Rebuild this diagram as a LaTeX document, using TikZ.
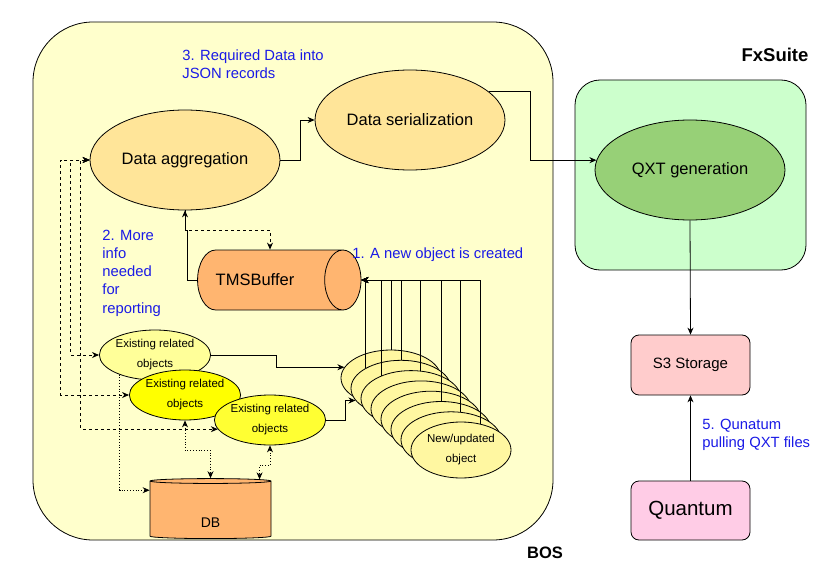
\documentclass[tikz,border=0pt]{standalone}
\usepackage{fontspec}
\setmainfont{Liberation Sans}
\usetikzlibrary{shapes.geometric,arrows.meta}

\definecolor{bosfill}{HTML}{FFFFCC}
\definecolor{fxfill}{HTML}{CCFFCC}
\definecolor{stepfill}{HTML}{FFE599}
\definecolor{bufffill}{HTML}{FFB570}
\definecolor{qxtfill}{HTML}{97D077}
\definecolor{sthreefill}{HTML}{FFCCCC}
\definecolor{quantfill}{HTML}{FFCCE6}
\definecolor{palefill}{HTML}{FFFF99}
\definecolor{yelfill}{HTML}{FFFF00}
\definecolor{midfill}{HTML}{FFFF33}
\definecolor{newfill}{HTML}{FFF7A1}
\definecolor{notecol}{HTML}{1A1AE6}

\newcommand{\bigfont}{\fontsize{16.5}{20}\selectfont}
\newcommand{\smallfont}{\fontsize{11.5}{20}\selectfont}
\newcommand{\notefont}{\fontsize{14.8}{18.3}\selectfont}

\begin{document}
\begin{tikzpicture}
[x=1pt,y=-1pt,line width=0.8pt,>={Stealth[length=7pt,width=6pt]},
 box/.style={draw,rounded corners=#1},
 oval/.style={ellipse,draw,inner sep=0pt,align=center},
 barrel/.style={cylinder,draw,inner sep=0pt},
 note/.style={text=notecol,font=\notefont,align=left,anchor=west,inner sep=0pt}]
\useasboundingbox (0,0) rectangle (827,583);
% containers
\node[box=60pt,fill=bosfill,minimum width=520pt,minimum height=518pt] (bos) at (293,281) {};
\node[box=25pt,fill=fxfill,minimum width=231pt,minimum height=190pt] (fx) at (690.5,175) {};
\node[font=\bigfont\bfseries] (bosname) at (545,553) {BOS};
\node[font=\fontsize{18.5}{22}\selectfont\bfseries] (fxname) at (775,55) {FxSuite};
% steps
\node[oval,fill=stepfill,minimum width=190pt,minimum height=100pt,font=\bigfont] (agg) at (185,160) {Data aggregation};
\node[oval,fill=stepfill,minimum width=190pt,minimum height=100pt,font=\bigfont] (ser) at (410,120) {Data serialization};
\node[oval,fill=qxtfill,minimum width=190pt,minimum height=100pt,font=\bigfont] (qxt) at (690,170) {QXT generation};
\node[box=8pt,fill=sthreefill,minimum width=119pt,minimum height=60pt,font=\fontsize{15}{18}\selectfont] (sthree) at (690.5,365) {S3 Storage};
\node[box=8pt,fill=quantfill,minimum width=119pt,minimum height=59pt,font=\fontsize{20.5}{24}\selectfont] (quant) at (690.5,510.5) {Quantum};
\node[barrel,fill=bufffill,minimum width=60pt,minimum height=148pt,aspect=3,font=\bigfont] (tms) at (270,280) {TMSBuffer\hspace*{30pt}};
\node[barrel,shape border rotate=90,fill=bufffill,minimum width=121pt,minimum height=60pt,aspect=0.25,font=\fontsize{14}{17}\selectfont] (db) at (210.5,510) {\raisebox{-17pt}[0pt][0pt]{DB}};
% related objects
\node[oval,fill=palefill,minimum width=110pt,minimum height=50pt,font=\smallfont] (exa) at (155,355) {Existing related\\objects};
\node[oval,fill=yelfill,minimum width=110pt,minimum height=50pt,font=\smallfont] (exb) at (185,395) {Existing related\\objects};
\node[oval,fill=midfill,minimum width=110pt,minimum height=50pt,font=\smallfont] (exc) at (270,420) {Existing related\\objects};
% new objects
\foreach \i in {0,...,6}
\node[oval,fill=newfill,minimum width=100pt,minimum height=56pt] (s\i) at ({391+10*\i},{378+10.3*\i}) {};
\node[oval,fill=newfill,minimum width=100pt,minimum height=56pt,font=\smallfont] (s7) at (461,450) {New/updated\\object};
% notes
\node[note] (notethree) at (182,64) {3. Required Data into\\JSON records};
\node[note] (notetwo) at (102,273) {2. More\\info\\needed\\for\\reporting};
\node[note] (noteone) at (352,255) {1. A new object is created};
\node[note] (notefive) at (702,435) {5. Qunatum\\pulling QXT files};
% connectors
\draw[->] (agg.east) -- ++(20,0) |- (ser.west);
\draw[->] (ser.20) -- ++(42,0) |- (qxt.174);
\draw[->] (qxt.south) -- (sthree.north);
\draw[->] (quant.north) -- (sthree.south);
\draw[->] (tms.west) -- ++(-10,0) -- ++(0,-50) -| (agg.south);
\draw[->,dashed] (agg.south) -- ++(0,20) -| (tms.north);
\foreach \src in {s1.151,s2.142,s0.north,s1.north,s2.72,s5.north,s6.72,s7.54}
\draw[->] (\src) |- (tms.east);
\draw[->] (exa.east) -- ++(65,0) |- (s0.167);
\draw[->] (exc.east) -- ++(19,0) |- (s1.195);
\foreach \dx/\to in {19/exa.west,29/exb.west,9/exc.190}
\draw[<->,dashed] (agg.west) -- ++(-\dx,0) |- (\to);
\draw[->,dotted] (exa.209) |- (db.162);
\draw[<->,dotted] (exb.south) -- ++(0,30) -| (db.north);
\draw[<->,dotted] (exc.south) -- ++(0,20) -| (db.32);
\end{tikzpicture}
\end{document}
